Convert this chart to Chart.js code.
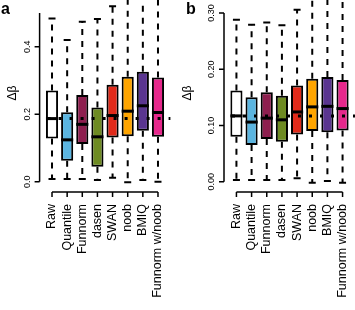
<!DOCTYPE html>
<html>
<head>
<meta charset="UTF-8">
<title>Delta beta boxplots</title>
<script src="https://cdn.jsdelivr.net/npm/chart.js"></script>
<style>
  body { margin: 0; background: #fff; }
  canvas { position: absolute; top: 0; }
  #chartA { left: 0; }
  #chartB { left: 175px; }
</style>
</head>
<body>
<canvas id="chartA" width="177" height="310"></canvas>
<canvas id="chartB" width="180" height="310"></canvas>
<script>
const categories = ['Raw', 'Quantile', 'Funnorm', 'dasen', 'SWAN', 'noob', 'BMIQ', 'Funnorm w/noob'];
const boxColors = ['#ffffff', '#5bb5e0', '#8e1f4f', '#6e8b22', '#e02a1a', '#ffa500', '#5a3590', '#e6288c'];

// panel a
const aMin = [0.008, 0.008, 0.008, 0.005, 0.012, -0.002, 0.005, 0.000];
const aQ1  = [0.128, 0.062, 0.112, 0.044, 0.131, 0.135, 0.151, 0.133];
const aMed = [0.187, 0.124, 0.170, 0.133, 0.196, 0.209, 0.225, 0.205];
const aQ3  = [0.270, 0.206, 0.257, 0.220, 0.287, 0.311, 0.326, 0.309];
const aMax = [0.484, 0.420, 0.474, 0.482, 0.520, 0.560, 0.560, 0.560];
const aTicks = ['0.0', '0.2', '0.4'];

// panel b
const bMin = [0.003, 0.003, 0.003, 0.003, 0.006, -0.002, 0.001, -0.002];
const bQ1  = [0.080, 0.065, 0.076, 0.071, 0.084, 0.090, 0.088, 0.091];
const bMed = [0.117, 0.106, 0.113, 0.110, 0.124, 0.133, 0.134, 0.130];
const bQ3  = [0.162, 0.150, 0.159, 0.153, 0.171, 0.183, 0.186, 0.181];
const bMax = [0.288, 0.279, 0.283, 0.278, 0.306, 0.330, 0.330, 0.330];
const bTicks = ['0.00', '0.10', '0.20', '0.30'];

const FONT = '"Liberation Sans", Arial, sans-serif';

// whiskers, medians, R-style axes
const boxPlugin = {
  id: 'boxParts',
  beforeDatasetsDraw(chart, args, o) {
    const ctx = chart.ctx, xs = chart.scales.x, ys = chart.scales.y;
    ctx.save();
    ctx.strokeStyle = '#000';
    ctx.lineWidth = 2;
    categories.forEach((c, i) => {
      const x = xs.getPixelForValue(i + 1);
      ctx.setLineDash([6, 6]);
      ctx.beginPath();
      ctx.moveTo(x, ys.getPixelForValue(o.q3[i]));
      ctx.lineTo(x, ys.getPixelForValue(o.max[i]));
      ctx.moveTo(x, ys.getPixelForValue(o.q1[i]));
      ctx.lineTo(x, ys.getPixelForValue(o.min[i]));
      ctx.stroke();
      ctx.setLineDash([]);
      ctx.beginPath();
      [o.min[i], o.max[i]].forEach(v => {
        const y = ys.getPixelForValue(v);
        ctx.moveTo(x - 3.5, y);
        ctx.lineTo(x + 3.5, y);
      });
      ctx.stroke();
    });
    ctx.restore();
  },
  afterDatasetsDraw(chart, args, o) {
    const ctx = chart.ctx, xs = chart.scales.x, ys = chart.scales.y;
    const area = chart.chartArea;
    const bars = chart.getDatasetMeta(0).data;
    ctx.save();
    // medians
    ctx.strokeStyle = '#000';
    ctx.lineWidth = 3;
    categories.forEach((c, i) => {
      const x = xs.getPixelForValue(i + 1), w = bars[i].width / 2;
      const y = ys.getPixelForValue(o.med[i]);
      ctx.beginPath();
      ctx.moveTo(x - w, y);
      ctx.lineTo(x + w, y);
      ctx.stroke();
    });
    // dotted reference line at the Raw median
    const yr = ys.getPixelForValue(o.med[0]);
    ctx.setLineDash([3, 8]);
    ctx.beginPath();
    ctx.moveTo(area.left + 8, yr);
    ctx.lineTo(area.right, yr);
    ctx.stroke();
    ctx.setLineDash([]);

    // y axis
    const ax = area.left;
    ctx.lineWidth = 1.5;
    ctx.beginPath();
    ctx.moveTo(ax, ys.getPixelForValue(0));
    ctx.lineTo(ax, area.top);
    o.ticks.forEach(t => {
      const y = ys.getPixelForValue(parseFloat(t));
      ctx.moveTo(ax, y);
      ctx.lineTo(ax - 5, y);
    });
    ctx.stroke();
    ctx.fillStyle = '#000';
    ctx.font = '9px ' + FONT;
    ctx.textAlign = 'center';
    ctx.textBaseline = 'middle';
    o.ticks.forEach(t => {
      const y = ys.getPixelForValue(parseFloat(t));
      ctx.save();
      ctx.translate(ax - 12, y);
      ctx.rotate(-Math.PI / 2);
      ctx.fillText(t, 0, 0);
      ctx.restore();
    });

    // x axis
    const ay = area.bottom + 1;
    ctx.beginPath();
    ctx.moveTo(xs.getPixelForValue(1), ay);
    ctx.lineTo(xs.getPixelForValue(categories.length), ay);
    categories.forEach((c, i) => {
      const x = xs.getPixelForValue(i + 1);
      ctx.moveTo(x, ay);
      ctx.lineTo(x, ay + 5);
    });
    ctx.stroke();
    ctx.font = '12.5px ' + FONT;
    ctx.textAlign = 'right';
    categories.forEach((c, i) => {
      ctx.save();
      ctx.translate(xs.getPixelForValue(i + 1), ay + 12);
      ctx.rotate(-Math.PI / 2);
      ctx.fillText(c, 0, 0);
      ctx.restore();
    });

    // axis title and panel letter
    ctx.font = '12px ' + FONT;
    ctx.textAlign = 'center';
    ctx.save();
    ctx.translate(o.titleX, 93);
    ctx.rotate(-Math.PI / 2);
    ctx.fillText('Δβ', 0, 0);
    ctx.restore();
    ctx.font = 'bold 16px ' + FONT;
    ctx.textAlign = 'left';
    ctx.textBaseline = 'alphabetic';
    ctx.fillText(o.letter, o.letterX, 14);
    ctx.restore();
  }
};

function makeChart(id, p) {
  return new Chart(document.getElementById(id), {
    type: 'bar',
    data: {
      datasets: [{
        data: categories.map((c, i) => ({ x: i + 1, y: [p.q1[i], p.q3[i]] })),
        backgroundColor: boxColors,
        borderColor: '#000',
        borderWidth: 2,
        borderSkipped: false,
        barPercentage: 0.8,
        categoryPercentage: 1
      }]
    },
    options: {
      responsive: false,
      animation: false,
      layout: { padding: p.pad },
      plugins: {
        legend: { display: false },
        tooltip: { enabled: false },
        boxParts: p
      },
      scales: {
        x: { type: 'linear', min: 0.18, max: 8.82, offset: false, display: false },
        y: { min: p.yMin, max: p.yMax, display: false }
      }
    },
    plugins: [boxPlugin]
  });
}

makeChart('chartA', {
  min: aMin, q1: aQ1, med: aMed, q3: aQ3, max: aMax, ticks: aTicks,
  yMin: -0.0276, yMax: 0.5, letter: 'a', letterX: 1, titleX: 13,
  pad: { left: 39.6, right: 6.6, top: 13, bottom: 119 }
});
makeChart('chartB', {
  min: bMin, q1: bQ1, med: bMed, q3: bQ3, max: bMax, ticks: bTicks,
  yMin: -0.0166, yMax: 0.3, letter: 'b', letterX: 11, titleX: 13,
  pad: { left: 49, right: 0, top: 13, bottom: 119 }
});
</script>
</body>
</html>
